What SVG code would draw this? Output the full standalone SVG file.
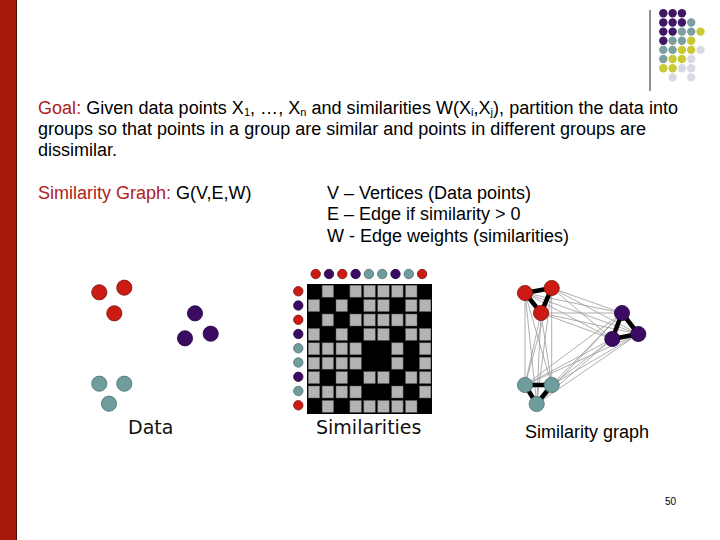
<svg xmlns="http://www.w3.org/2000/svg" width="720" height="540" viewBox="0 0 720 540">
<style>
text{font-family:"Liberation Sans",Arial,sans-serif;fill:#000}
.t{font-size:18px}
.red{fill:#B0201C}
.sub{font-size:11px}
.lbl{font-family:"DejaVu Sans","Liberation Sans",sans-serif;font-size:19px;fill:#111}
.gp{fill:#3F1763}.gt{fill:#7E9FA0}.gy{fill:#C9C934}.gl{fill:#D9D9E6}
.dr{fill:#CC1B12;stroke:#7A1010;stroke-width:0.8}
.dp{fill:#3B0A63;stroke:#240540;stroke-width:0.8}
.dt{fill:#6F9C9C;stroke:#4A7070;stroke-width:0.8}
.cell{fill:#B3B3B3;stroke:#555;stroke-width:0.5}
.thin{stroke:#9A9A9A;stroke-width:0.8;fill:none}
.thick{stroke:#000;stroke-width:4.5;fill:none}
</style>
<rect x="0" y="0" width="720" height="540" fill="#fff"/>
<g id="sidebar">
<rect x="0" y="0" width="16" height="540" fill="#A51A0B"/>
<rect x="16" y="0" width="1" height="540" fill="#4A0D06"/>
</g>
<g id="corner-dots">
<line x1="650" y1="10" x2="650" y2="91" stroke="#222" stroke-width="1"/>
<circle class="gp" cx="663.3" cy="13.3" r="4.2"/><circle class="gp" cx="672.6" cy="13.3" r="4.2"/><circle class="gp" cx="681.9" cy="13.3" r="4.2"/>
<circle class="gp" cx="663.3" cy="22.45" r="4.2"/><circle class="gp" cx="672.6" cy="22.45" r="4.2"/><circle class="gp" cx="681.9" cy="22.45" r="4.2"/><circle class="gt" cx="691.2" cy="22.45" r="4.2"/>
<circle class="gp" cx="663.3" cy="31.6" r="4.2"/><circle class="gp" cx="672.6" cy="31.6" r="4.2"/><circle class="gt" cx="681.9" cy="31.6" r="4.2"/><circle class="gt" cx="691.2" cy="31.6" r="4.2"/><circle class="gy" cx="700.5" cy="31.6" r="4.2"/>
<circle class="gp" cx="663.3" cy="40.75" r="4.2"/><circle class="gt" cx="672.6" cy="40.75" r="4.2"/><circle class="gt" cx="681.9" cy="40.75" r="4.2"/><circle class="gy" cx="691.2" cy="40.75" r="4.2"/>
<circle class="gt" cx="663.3" cy="49.9" r="4.2"/><circle class="gt" cx="672.6" cy="49.9" r="4.2"/><circle class="gy" cx="681.9" cy="49.9" r="4.2"/><circle class="gy" cx="691.2" cy="49.9" r="4.2"/><circle class="gl" cx="700.5" cy="49.9" r="4.2"/>
<circle class="gt" cx="663.3" cy="59.05" r="4.2"/><circle class="gy" cx="672.6" cy="59.05" r="4.2"/><circle class="gy" cx="681.9" cy="59.05" r="4.2"/><circle class="gl" cx="691.2" cy="59.05" r="4.2"/>
<circle class="gy" cx="663.3" cy="68.2" r="4.2"/><circle class="gy" cx="672.6" cy="68.2" r="4.2"/><circle class="gl" cx="681.9" cy="68.2" r="4.2"/><circle class="gl" cx="691.2" cy="68.2" r="4.2"/>
<circle class="gl" cx="672.6" cy="77.35" r="4.2"/><circle class="gl" cx="691.2" cy="77.35" r="4.2"/>
</g>
<g id="goal-text">
<text class="t" x="38" y="114" textLength="640" lengthAdjust="spacing"><tspan class="red">Goal:</tspan> Given data points X<tspan class="sub" dy="2">1</tspan><tspan dy="-2">, …, X</tspan><tspan class="sub" dy="2">n</tspan><tspan dy="-2"> and similarities W(X</tspan><tspan class="sub" dy="2">i</tspan><tspan dy="-2">,X</tspan><tspan class="sub" dy="2">j</tspan><tspan dy="-2">), partition the data into</tspan></text>
<text class="t" x="38" y="135">groups so that points in a group are similar and points in different groups are</text>
<text class="t" x="38" y="156">dissimilar.</text>
</g>
<g id="graph-def">
<text class="t" x="38" y="199"><tspan class="red">Similarity Graph:</tspan> G(V,E,W)</text>
<text class="t" x="327" y="199">V – Vertices (Data points)</text>
<text class="t" x="327" y="220">E – Edge if similarity &gt; 0</text>
<text class="t" x="327" y="242">W - Edge weights (similarities)</text>
</g>
<g id="data">
<circle class="dr" cx="99.3" cy="292.3" r="7.6"/><circle class="dr" cx="124.3" cy="287.7" r="7.6"/><circle class="dr" cx="114.3" cy="313.3" r="7.6"/>
<circle class="dp" cx="195" cy="313.3" r="7.6"/><circle class="dp" cx="185" cy="338.3" r="7.6"/><circle class="dp" cx="210.7" cy="333.7" r="7.6"/>
<circle class="dt" cx="99.3" cy="383.7" r="7.6"/><circle class="dt" cx="124.3" cy="383.7" r="7.6"/><circle class="dt" cx="109" cy="403.7" r="7.6"/>
<text class="lbl" x="128" y="434">Data</text>
</g>
<g id="similarities">
<circle class="dr" cx="315.7" cy="274" r="4.7"/><circle class="dp" cx="329" cy="274" r="4.7"/><circle class="dr" cx="342.3" cy="274" r="4.7"/><circle class="dp" cx="355.6" cy="274" r="4.7"/><circle class="dt" cx="368.9" cy="274" r="4.7"/><circle class="dt" cx="382.2" cy="274" r="4.7"/><circle class="dp" cx="395.5" cy="274" r="4.7"/><circle class="dt" cx="408.8" cy="274" r="4.7"/><circle class="dr" cx="422.1" cy="274" r="4.7"/>
<circle class="dr" cx="298.3" cy="291.3" r="4.7"/><circle class="dp" cx="298.3" cy="305.5" r="4.7"/><circle class="dr" cx="298.3" cy="319.8" r="4.7"/><circle class="dp" cx="298.3" cy="334" r="4.7"/><circle class="dt" cx="298.3" cy="348.3" r="4.7"/><circle class="dt" cx="298.3" cy="362.5" r="4.7"/><circle class="dp" cx="298.3" cy="376.8" r="4.7"/><circle class="dt" cx="298.3" cy="391" r="4.7"/><circle class="dr" cx="298.3" cy="405.3" r="4.7"/>
<rect x="307" y="284" width="125" height="130" fill="#000"/>
<g id="matrix-cells">
<!-- row 0 -->
<rect class="cell" x="322.1" y="285.2" width="11.5" height="12"/><rect class="cell" x="349.9" y="285.2" width="11.5" height="12"/><rect class="cell" x="363.8" y="285.2" width="11.5" height="12"/><rect class="cell" x="377.7" y="285.2" width="11.5" height="12"/><rect class="cell" x="391.6" y="285.2" width="11.5" height="12"/><rect class="cell" x="405.5" y="285.2" width="11.5" height="12"/>
<!-- row 1 -->
<rect class="cell" x="308.2" y="299.6" width="11.5" height="12"/><rect class="cell" x="336" y="299.6" width="11.5" height="12"/><rect class="cell" x="363.8" y="299.6" width="11.5" height="12"/><rect class="cell" x="377.7" y="299.6" width="11.5" height="12"/><rect class="cell" x="405.5" y="299.6" width="11.5" height="12"/><rect class="cell" x="419.4" y="299.6" width="11.5" height="12"/>
<!-- row 2 -->
<rect class="cell" x="322.1" y="314" width="11.5" height="12"/><rect class="cell" x="349.9" y="314" width="11.5" height="12"/><rect class="cell" x="363.8" y="314" width="11.5" height="12"/><rect class="cell" x="377.7" y="314" width="11.5" height="12"/><rect class="cell" x="391.6" y="314" width="11.5" height="12"/><rect class="cell" x="405.5" y="314" width="11.5" height="12"/>
<!-- row 3 -->
<rect class="cell" x="308.2" y="328.4" width="11.5" height="12"/><rect class="cell" x="336" y="328.4" width="11.5" height="12"/><rect class="cell" x="363.8" y="328.4" width="11.5" height="12"/><rect class="cell" x="377.7" y="328.4" width="11.5" height="12"/><rect class="cell" x="405.5" y="328.4" width="11.5" height="12"/><rect class="cell" x="419.4" y="328.4" width="11.5" height="12"/>
<!-- row 4 -->
<rect class="cell" x="308.2" y="342.8" width="11.5" height="12"/><rect class="cell" x="322.1" y="342.8" width="11.5" height="12"/><rect class="cell" x="336" y="342.8" width="11.5" height="12"/><rect class="cell" x="349.9" y="342.8" width="11.5" height="12"/><rect class="cell" x="391.6" y="342.8" width="11.5" height="12"/><rect class="cell" x="419.4" y="342.8" width="11.5" height="12"/>
<!-- row 5 -->
<rect class="cell" x="308.2" y="357.2" width="11.5" height="12"/><rect class="cell" x="322.1" y="357.2" width="11.5" height="12"/><rect class="cell" x="336" y="357.2" width="11.5" height="12"/><rect class="cell" x="349.9" y="357.2" width="11.5" height="12"/><rect class="cell" x="391.6" y="357.2" width="11.5" height="12"/><rect class="cell" x="419.4" y="357.2" width="11.5" height="12"/>
<!-- row 6 -->
<rect class="cell" x="308.2" y="371.6" width="11.5" height="12"/><rect class="cell" x="336" y="371.6" width="11.5" height="12"/><rect class="cell" x="363.8" y="371.6" width="11.5" height="12"/><rect class="cell" x="377.7" y="371.6" width="11.5" height="12"/><rect class="cell" x="405.5" y="371.6" width="11.5" height="12"/><rect class="cell" x="419.4" y="371.6" width="11.5" height="12"/>
<!-- row 7 -->
<rect class="cell" x="308.2" y="386" width="11.5" height="12"/><rect class="cell" x="322.1" y="386" width="11.5" height="12"/><rect class="cell" x="336" y="386" width="11.5" height="12"/><rect class="cell" x="349.9" y="386" width="11.5" height="12"/><rect class="cell" x="391.6" y="386" width="11.5" height="12"/><rect class="cell" x="419.4" y="386" width="11.5" height="12"/>
<!-- row 8 -->
<rect class="cell" x="322.1" y="400.4" width="11.5" height="12"/><rect class="cell" x="349.9" y="400.4" width="11.5" height="12"/><rect class="cell" x="363.8" y="400.4" width="11.5" height="12"/><rect class="cell" x="377.7" y="400.4" width="11.5" height="12"/><rect class="cell" x="391.6" y="400.4" width="11.5" height="12"/><rect class="cell" x="405.5" y="400.4" width="11.5" height="12"/>
</g>
<text class="lbl" x="316" y="434">Similarities</text>
</g>
<g id="similarity-graph">
<g id="connectors">
<g class="thin">
<line x1="525" y1="293" x2="622" y2="313"/><line x1="525" y1="293" x2="638.3" y2="334"/><line x1="525" y1="293" x2="612.3" y2="339"/>
<line x1="551.7" y1="288" x2="622" y2="313"/><line x1="551.7" y1="288" x2="638.3" y2="334"/><line x1="551.7" y1="288" x2="612.3" y2="339"/>
<line x1="541" y1="313" x2="622" y2="313"/><line x1="541" y1="313" x2="638.3" y2="334"/><line x1="541" y1="313" x2="612.3" y2="339"/>
<line x1="525" y1="293" x2="525" y2="385"/><line x1="525" y1="293" x2="551.7" y2="385"/><line x1="525" y1="293" x2="536.7" y2="404"/>
<line x1="551.7" y1="288" x2="525" y2="385"/><line x1="551.7" y1="288" x2="551.7" y2="385"/><line x1="551.7" y1="288" x2="536.7" y2="404"/>
<line x1="541" y1="313" x2="525" y2="385"/><line x1="541" y1="313" x2="551.7" y2="385"/><line x1="541" y1="313" x2="536.7" y2="404"/>
<line x1="622" y1="313" x2="525" y2="385"/><line x1="622" y1="313" x2="551.7" y2="385"/><line x1="622" y1="313" x2="536.7" y2="404"/>
<line x1="638.3" y1="334" x2="525" y2="385"/><line x1="638.3" y1="334" x2="551.7" y2="385"/><line x1="638.3" y1="334" x2="536.7" y2="404"/>
<line x1="612.3" y1="339" x2="525" y2="385"/><line x1="612.3" y1="339" x2="551.7" y2="385"/><line x1="612.3" y1="339" x2="536.7" y2="404"/>
</g>
<g class="thick">
<polygon points="525,293 551.7,288 541,313"/>
<polygon points="622,313 638.3,334 612.3,339"/>
<polygon points="525,385 551.7,385 536.7,404"/>
</g>
</g>
<g id="node-r1"><circle class="dr" cx="525" cy="293" r="7.6"/></g>
<g id="node-r2"><circle class="dr" cx="551.7" cy="288" r="7.6"/></g>
<g id="node-r3"><circle class="dr" cx="541" cy="313" r="7.6"/></g>
<g id="node-p1"><circle class="dp" cx="622" cy="313" r="7.6"/></g>
<g id="node-p2"><circle class="dp" cx="638.3" cy="334" r="7.6"/></g>
<g id="node-p3"><circle class="dp" cx="612.3" cy="339" r="7.6"/></g>
<g id="node-t1"><circle class="dt" cx="525" cy="385" r="7.6"/></g>
<g id="node-t2"><circle class="dt" cx="551.7" cy="385" r="7.6"/></g>
<g id="node-t3"><circle class="dt" cx="536.7" cy="404" r="7.6"/></g>
<text class="t" x="525" y="438">Similarity graph</text>
</g>
<text x="665" y="505" font-size="10">50</text>
</svg>
